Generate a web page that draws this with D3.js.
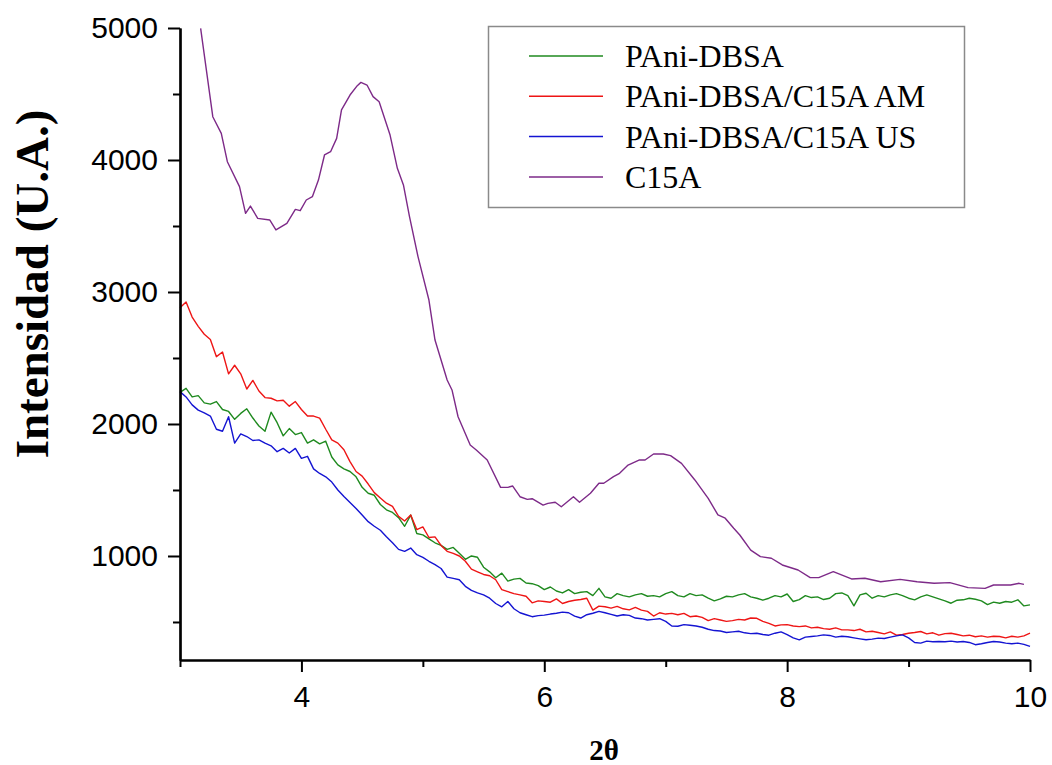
<!DOCTYPE html>
<html>
<head>
<meta charset="utf-8">
<script src="https://cdn.jsdelivr.net/npm/d3@7"></script>
<style>
  body { margin: 0; background: #fff; }
  svg { display: block; }
</style>
</head>
<body>
<div id="chart"></div>
<script>
// series labels and colours
var seriesNames = ["PAni-DBSA", "PAni-DBSA/C15A AM", "PAni-DBSA/C15A US", "C15A"];
var seriesColors = ["#1f8a1f", "#ee1515", "#1414d2", "#7d2a88"];

// noisy scans are sampled every 0.05 degrees from 3 to 10
var scanStart = 3, scanStep = 0.05;

var dbsaY = [2240,2270,2205,2215,2160,2150,2170,2110,2095,2035,2080,2115,2045,1985,1945,2090,2010,1910,1965,1920,
  1935,1855,1880,1850,1870,1750,1690,1660,1640,1600,1520,1475,1460,1390,1350,1330,1290,1225,1310,1170,
  1160,1130,1100,1080,1050,1065,1020,975,1000,990,915,880,835,870,810,825,830,795,790,775,
  745,765,735,720,745,715,725,730,700,755,690,680,715,700,690,705,715,695,700,690,
  715,730,700,690,715,700,705,680,660,675,695,690,705,715,690,680,665,680,700,690,
  712,655,670,700,685,690,670,680,715,720,700,622,705,718,680,700,690,705,715,700,
  680,668,690,705,690,675,660,642,665,668,680,672,660,632,650,642,655,650,668,622,630];

var amY = [2880,2925,2810,2740,2680,2640,2510,2545,2380,2445,2380,2265,2330,2250,2200,2195,2175,2180,2135,2170,
  2110,2060,2060,2045,1960,1880,1855,1805,1715,1640,1605,1545,1480,1440,1400,1375,1300,1265,1310,1200,
  1220,1140,1145,1080,1035,1020,1000,960,900,880,860,850,820,745,730,715,705,695,645,660,
  655,650,675,640,655,665,670,680,590,620,615,605,618,600,592,610,590,580,545,570,
  560,565,555,565,540,545,535,510,525,515,505,510,520,515,530,528,505,490,470,478,
  480,470,465,470,455,460,450,445,455,440,440,435,445,425,430,420,410,425,400,405,
  415,420,428,410,418,400,412,415,405,395,400,388,395,385,392,390,380,392,385,395,415];

var usY = [2245,2205,2145,2105,2085,2060,1960,1945,2055,1855,1925,1905,1875,1880,1855,1835,1790,1815,1780,1815,
  1740,1755,1660,1625,1600,1560,1500,1450,1405,1360,1310,1260,1225,1195,1145,1100,1050,1035,1060,1010,
  990,960,935,905,840,830,820,770,740,720,705,680,640,615,655,600,570,555,540,548,
  552,560,566,575,570,545,530,555,566,580,570,558,545,555,550,530,525,515,520,525,
  505,470,468,480,475,470,460,445,435,432,420,425,430,418,412,415,405,400,415,425,
  405,380,365,385,390,395,402,398,385,392,388,380,372,365,370,378,375,385,395,402,
  380,345,340,355,350,352,350,355,348,352,345,328,335,345,352,348,340,335,340,330,315];

// C15A is smoother, read point by point
var c15aX = [3.17,3.27,3.34,3.39,3.49,3.54,3.58,3.64,3.74,3.79,3.88,3.95,3.99,4.04,4.09,4.14,4.19,4.24,4.29,4.33,
  4.40,4.46,4.49,4.54,4.59,4.64,4.73,4.79,4.84,4.89,4.96,5.05,5.10,5.20,5.24,5.29,5.39,5.44,5.53,5.64,
  5.70,5.74,5.80,5.86,5.90,5.99,6.03,6.09,6.14,6.24,6.29,6.38,6.45,6.49,6.57,6.62,6.69,6.78,6.83,6.90,
  6.98,7.04,7.13,7.24,7.35,7.43,7.49,7.56,7.61,7.70,7.78,7.87,7.96,8.09,8.19,8.26,8.38,8.53,8.64,8.77,
  8.93,9.07,9.21,9.34,9.49,9.63,9.70,9.84,9.91,9.95];
var c15aY = [4997,4328,4202,3987,3798,3596,3651,3558,3545,3470,3520,3626,3616,3697,3722,3848,4038,4063,4164,4379,
  4492,4563,4588,4568,4480,4441,4189,3937,3811,3571,3268,2939,2636,2333,2258,2055,1841,1803,1727,1520,
  1520,1530,1449,1429,1434,1386,1399,1407,1373,1449,1407,1475,1551,1551,1601,1626,1689,1727,1727,1773,
  1773,1760,1702,1576,1437,1311,1286,1210,1159,1045,995,983,932,894,836,836,881,826,831,805,
  823,805,793,798,760,755,780,780,793,785];

var xTicks = [4, 6, 8, 10];
var xMinorTicks = [3, 5, 7, 9];
var yTicks = [1000, 2000, 3000, 4000, 5000];
var yMinorTicks = [500, 1500, 2500, 3500, 4500];

var svgWidth = 1052;
var svgHeight = 765;

var svg = d3.select("#chart")
  .append("svg")
  .attr("width", svgWidth)
  .attr("height", svgHeight);

var xScale = d3.scaleLinear().domain([3, 10]).range([180, 1030]);
var yScale = d3.scaleLinear().domain([212, 5000]).range([660, 28]);

function scanPoints(values) {
  return values.map(function(v, i) { return [scanStart + i * scanStep, v]; });
}

var seriesData = [
  scanPoints(dbsaY),
  scanPoints(amY),
  scanPoints(usY),
  c15aX.map(function(x, i) { return [x, c15aY[i]]; })
];

var line = d3.line()
  .x(d => xScale(d[0]))
  .y(d => yScale(d[1]));

// draw order: C15A, green, red, blue
var drawOrder = [3, 0, 1, 2];
drawOrder.forEach(function(k) {
  svg.append("path")
    .datum(seriesData[k])
    .attr("fill", "none")
    .attr("stroke", seriesColors[k])
    .attr("stroke-width", 1.4)
    .attr("stroke-linejoin", "round")
    .attr("d", line);
});

// axes
var tickFont = "'Liberation Sans', Arial, sans-serif";

svg.append("g")
  .attr("transform", "translate(0,660)")
  .call(d3.axisBottom(xScale).tickValues(xTicks).tickFormat(d3.format("d"))
    .tickSize(12).tickPadding(14).tickSizeOuter(0));
svg.append("g")
  .attr("transform", "translate(0,660)")
  .call(d3.axisBottom(xScale).tickValues(xMinorTicks).tickSize(7).tickFormat("").tickSizeOuter(0));

svg.append("g")
  .attr("transform", "translate(180,0)")
  .call(d3.axisLeft(yScale).tickValues(yTicks).tickFormat(d3.format("d"))
    .tickSize(12).tickPadding(10).tickSizeOuter(0));
svg.append("g")
  .attr("transform", "translate(180,0)")
  .call(d3.axisLeft(yScale).tickValues(yMinorTicks).tickSize(7).tickFormat("").tickSizeOuter(0));

svg.selectAll(".domain").attr("stroke", "#000").attr("stroke-width", 2.2);
svg.selectAll(".tick line").attr("stroke", "#000").attr("stroke-width", 2);
svg.selectAll(".tick text")
  .attr("font-family", tickFont)
  .attr("font-size", "30px")
  .attr("fill", "#000");

// axis titles
svg.append("text")
  .attr("transform", "translate(48, 284) rotate(-90)")
  .attr("text-anchor", "middle")
  .attr("font-family", "'Liberation Serif', 'Times New Roman', serif")
  .attr("font-weight", "bold")
  .attr("font-size", "47px")
  .text("Intensidad (U.A.)");

svg.append("text")
  .attr("x", 604)
  .attr("y", 760)
  .attr("text-anchor", "middle")
  .attr("font-family", "'Liberation Serif', 'Times New Roman', serif")
  .attr("font-weight", "bold")
  .attr("font-size", "29px")
  .text("2θ");

// legend
var legend = svg.append("g");
legend.append("rect")
  .attr("x", 488.5)
  .attr("y", 26.5)
  .attr("width", 476)
  .attr("height", 181)
  .attr("fill", "#fff")
  .attr("stroke", "#8a8a8a")
  .attr("stroke-width", 1.5);

var legendRows = legend.selectAll("g.row")
  .data(seriesNames)
  .enter()
  .append("g")
  .attr("class", "row")
  .attr("transform", (d, i) => `translate(0, ${56 + i * 40.3})`);

legendRows.append("line")
  .attr("x1", 529)
  .attr("x2", 603)
  .attr("stroke", (d, i) => seriesColors[i])
  .attr("stroke-width", 1.5);

legendRows.append("text")
  .attr("x", 625)
  .attr("y", 11)
  .attr("font-family", "'Liberation Serif', 'Times New Roman', serif")
  .attr("font-size", "32px")
  .attr("fill", "#000")
  .text(d => d);
</script>
</body>
</html>
